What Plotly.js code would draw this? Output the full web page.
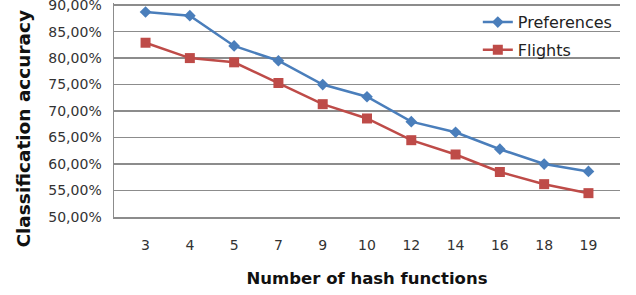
<!DOCTYPE html>
<html>
<head>
<meta charset="utf-8">
<script src="https://cdn.plot.ly/plotly-3.0.1.min.js"></script>
<style>html,body{margin:0;padding:0;background:#fff;}#chart{width:636px;height:295px;}</style>
</head>
<body>
<div id="chart"></div>
<script>
const categories = ['3', '4', '5', '7', '9', '10', '12', '14', '16', '18', '19'];
const preferences = [0.887, 0.880, 0.823, 0.795, 0.750, 0.727, 0.680, 0.660, 0.628, 0.600, 0.586];
const flights = [0.829, 0.800, 0.792, 0.753, 0.713, 0.686, 0.645, 0.618, 0.585, 0.562, 0.545];
const yTicks = [0.50, 0.55, 0.60, 0.65, 0.70, 0.75, 0.80, 0.85, 0.90];

const traces = [
  {
    x: categories, y: preferences, name: 'Preferences', type: 'scatter', mode: 'lines+markers',
    line: {color: '#4A7EBB', width: 2.5},
    marker: {symbol: 'diamond', size: 9, color: '#4A7EBB'},
    legendgroup: 'a'
  },
  {
    x: categories, y: flights, name: 'Flights', type: 'scatter', mode: 'lines+markers',
    line: {color: '#BE4B48', width: 2.5},
    marker: {symbol: 'square', size: 10, color: '#BE4B48'},
    legendgroup: 'b'
  }
];

const layout = {
  width: 636, height: 295,
  margin: {l: 114, r: 16, t: 3, b: 78},
  paper_bgcolor: '#ffffff', plot_bgcolor: '#ffffff',
  separators: ',.',
  font: {family: 'DejaVu Sans, sans-serif', color: '#333333'},
  showlegend: true,
  legend: {
    x: 0.719, y: 0.99, xanchor: 'left', yanchor: 'top',
    font: {size: 16, color: '#222222'},
    bgcolor: 'rgba(0,0,0,0)', tracegroupgap: 4,
    itemwidth: 30
  },
  xaxis: {
    type: 'category',
    showgrid: false, zeroline: false,
    showline: true, linecolor: '#8C8C8C', linewidth: 1.5,
    ticks: '', ticklabelstandoff: 15,
    tickfont: {size: 14, color: '#333333'},
    title: {text: 'Number of hash functions', font: {size: 16.5, color: '#111111', family: 'DejaVu Sans, sans-serif', weight: 'bold'}, standoff: 20}
  },
  yaxis: {
    range: [0.5, 0.904], tickvals: yTicks, tickformat: '.2%',
    showgrid: true, gridcolor: '#8C8C8C', gridwidth: 1.5,
    zeroline: false, showline: true, linecolor: '#8C8C8C', linewidth: 1.5,
    ticks: '', ticklabelstandoff: 8, ticklabeloverflow: 'allow',
    tickfont: {size: 14, color: '#333333'}
  },
  annotations: [{
    text: '<b>Classification accuracy</b>', textangle: -90,
    xref: 'paper', yref: 'paper', x: -0.178, y: 0.413,
    xanchor: 'center', yanchor: 'middle', showarrow: false,
    font: {size: 18.5, color: '#111111', family: 'DejaVu Sans, sans-serif'}
  }]
};

Plotly.newPlot('chart', traces, layout, {displayModeBar: false, staticPlot: true});
</script>
</body>
</html>
